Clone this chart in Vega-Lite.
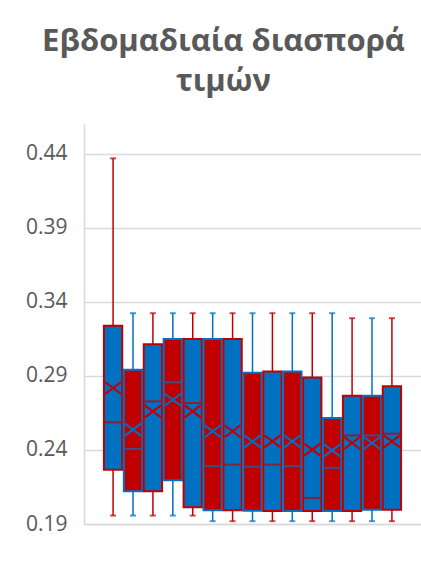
{
  "$schema": "https://vega.github.io/schema/vega-lite/v6.json",
  "width": 337,
  "height": 400,
  "autosize": {"type": "none"},
  "padding": {"left": 84, "top": 124, "right": 0, "bottom": 60},
  "background": "white",
  "title": {
    "text": ["Εβδομαδιαία διασπορά", "τιμών"],
    "font": "Open Sans",
    "fontSize": 31,
    "fontWeight": "bold",
    "color": "#595959",
    "lineHeight": 40,
    "anchor": "middle",
    "dx": -29,
    "offset": 26
  },
  "data": {
    "values": [
      {"idx": 1, "lo": 0.1957, "q1": 0.2267, "med": 0.2586, "mean": 0.2818, "q3": 0.3238, "hi": 0.4368, "face": "blue", "edge": "red"},
      {"idx": 2, "lo": 0.1957, "q1": 0.2121, "med": 0.2407, "mean": 0.2537, "q3": 0.2941, "hi": 0.3323, "face": "red", "edge": "blue"},
      {"idx": 3, "lo": 0.1957, "q1": 0.2121, "med": 0.2728, "mean": 0.2660, "q3": 0.3114, "hi": 0.3323, "face": "blue", "edge": "red"},
      {"idx": 4, "lo": 0.1957, "q1": 0.2195, "med": 0.2856, "mean": 0.2739, "q3": 0.3148, "hi": 0.3323, "face": "red", "edge": "blue"},
      {"idx": 5, "lo": 0.1957, "q1": 0.2013, "med": 0.2717, "mean": 0.2660, "q3": 0.3148, "hi": 0.3323, "face": "blue", "edge": "red"},
      {"idx": 6, "lo": 0.1919, "q1": 0.1993, "med": 0.2290, "mean": 0.2526, "q3": 0.3148, "hi": 0.3323, "face": "red", "edge": "blue"},
      {"idx": 7, "lo": 0.1919, "q1": 0.1993, "med": 0.2301, "mean": 0.2526, "q3": 0.3148, "hi": 0.3323, "face": "blue", "edge": "red"},
      {"idx": 8, "lo": 0.1919, "q1": 0.1990, "med": 0.2287, "mean": 0.2458, "q3": 0.2921, "hi": 0.3323, "face": "red", "edge": "blue"},
      {"idx": 9, "lo": 0.1919, "q1": 0.1988, "med": 0.2301, "mean": 0.2458, "q3": 0.2930, "hi": 0.3323, "face": "blue", "edge": "red"},
      {"idx": 10, "lo": 0.1919, "q1": 0.1988, "med": 0.2290, "mean": 0.2458, "q3": 0.2930, "hi": 0.3323, "face": "red", "edge": "blue"},
      {"idx": 11, "lo": 0.1919, "q1": 0.1988, "med": 0.2076, "mean": 0.2402, "q3": 0.2889, "hi": 0.3323, "face": "blue", "edge": "red"},
      {"idx": 12, "lo": 0.1919, "q1": 0.1988, "med": 0.2279, "mean": 0.2397, "q3": 0.2615, "hi": 0.3323, "face": "red", "edge": "blue"},
      {"idx": 13, "lo": 0.1919, "q1": 0.1988, "med": 0.2498, "mean": 0.2447, "q3": 0.2766, "hi": 0.3289, "face": "blue", "edge": "red"},
      {"idx": 14, "lo": 0.1919, "q1": 0.1997, "med": 0.2498, "mean": 0.2447, "q3": 0.2766, "hi": 0.3289, "face": "red", "edge": "blue"},
      {"idx": 15, "lo": 0.1919, "q1": 0.1997, "med": 0.2510, "mean": 0.2458, "q3": 0.2829, "hi": 0.3289, "face": "blue", "edge": "red"}
    ]
  },
  "encoding": {
    "x": {
      "field": "idx",
      "type": "ordinal",
      "scale": {"paddingInner": 0.08, "paddingOuter": 1.1},
      "axis": {"labels": false, "ticks": false, "title": null, "domainColor": "#D9D9D9", "domainWidth": 1.5, "grid": false}
    }
  },
  "layer": [
    {
      "mark": {"type": "rule", "strokeWidth": 1.5},
      "encoding": {
        "y": {
          "field": "lo",
          "type": "quantitative",
          "scale": {"domain": [0.19, 0.46], "nice": false, "zero": false},
          "axis": {
            "values": [0.19, 0.24, 0.29, 0.34, 0.39, 0.44],
            "format": ".2f",
            "title": null,
            "ticks": false,
            "labelFont": "Open Sans",
            "labelFontSize": 21,
            "labelColor": "#595959",
            "labelPadding": 17,
            "domainColor": "#D9D9D9",
            "domainWidth": 1.5,
            "gridColor": "#D9D9D9",
            "gridWidth": 1.5
          }
        },
        "y2": {"field": "hi"},
        "color": {"field": "edge", "type": "nominal", "scale": {"domain": ["blue", "red"], "range": ["#0070C0", "#C00000"]}, "legend": null}
      }
    },
    {
      "mark": {"type": "tick", "size": 6, "thickness": 2},
      "encoding": {
        "y": {"field": "lo", "type": "quantitative"},
        "color": {"field": "edge", "type": "nominal", "legend": null}
      }
    },
    {
      "mark": {"type": "tick", "size": 6, "thickness": 2},
      "encoding": {
        "y": {"field": "hi", "type": "quantitative"},
        "color": {"field": "edge", "type": "nominal", "legend": null}
      }
    },
    {
      "mark": {"type": "bar", "strokeWidth": 2},
      "encoding": {
        "y": {"field": "q1", "type": "quantitative"},
        "y2": {"field": "q3"},
        "fill": {"field": "face", "type": "nominal", "scale": {"domain": ["blue", "red"], "range": ["#0070C0", "#C00000"]}, "legend": null},
        "stroke": {"field": "edge", "type": "nominal", "scale": {"domain": ["blue", "red"], "range": ["#0070C0", "#C00000"]}, "legend": null}
      }
    },
    {
      "mark": {"type": "tick", "size": 17, "thickness": 2},
      "encoding": {
        "y": {"field": "med", "type": "quantitative"},
        "color": {"field": "edge", "type": "nominal", "legend": null}
      }
    },
    {
      "mark": {"type": "point", "shape": "M-1,-0.75L1,0.75M-1,0.75L1,-0.75", "filled": false, "size": 256, "strokeWidth": 2, "opacity": 1},
      "encoding": {
        "y": {"field": "mean", "type": "quantitative"},
        "color": {"field": "edge", "type": "nominal", "legend": null}
      }
    }
  ],
  "config": {
    "view": {"stroke": null},
    "axis": {"gridColor": "#D9D9D9"}
  }
}
